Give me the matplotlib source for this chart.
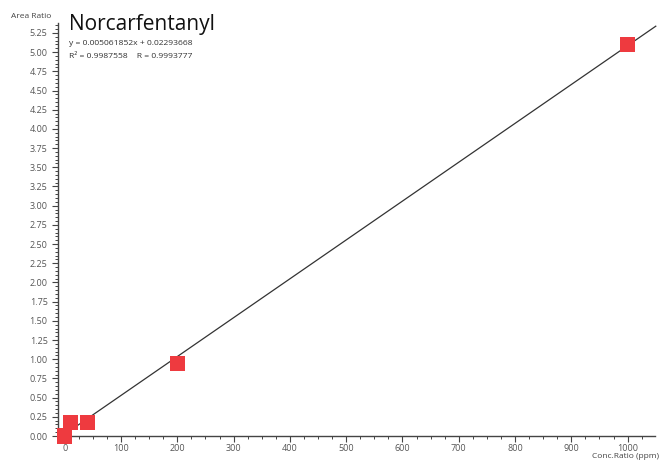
import matplotlib.pyplot as plt
from matplotlib.ticker import MultipleLocator, FormatStrFormatter
import numpy as np

plt.rcParams['font.family'] = ['Open Sans', 'DejaVu Sans']

# calibration points
conc = [0, 10, 40, 200, 1000]
area = [0.0, 0.18, 0.176, 0.947, 5.10]

slope = 0.005061852
intercept = 0.02293668
r2 = 0.9987558
r = 0.9993777

fig = plt.figure(figsize=(6.6, 4.61), dpi=100)
ax = fig.add_axes([0.0879, 0.0542, 0.904, 0.896])

xfit = np.array([0, 1050])
ax.plot(xfit, slope * xfit + intercept, color='#333333', lw=0.9, zorder=2, clip_on=False)
ax.scatter(conc, area, marker='s', s=120, color='#ee3a3f', edgecolors='none',
           zorder=3, clip_on=False)

ax.set_xlim(-12, 1048)
ax.set_ylim(0, 5.38)
ax.spines['top'].set_visible(False)
ax.spines['right'].set_visible(False)
for s in ('left', 'bottom'):
    ax.spines[s].set_color('#444444')
    ax.spines[s].set_linewidth(1.0)

ax.xaxis.set_major_locator(MultipleLocator(100))
ax.xaxis.set_minor_locator(MultipleLocator(25))
ax.yaxis.set_major_locator(MultipleLocator(0.25))
ax.yaxis.set_minor_locator(MultipleLocator(0.05))
ax.yaxis.set_major_formatter(FormatStrFormatter('%.2f'))
ax.tick_params(which='both', colors='#444444', labelcolor='#555555', labelsize=6.5)
ax.tick_params(which='major', length=4, width=0.8)
ax.tick_params(which='minor', length=2.5, width=0.7)
ax.tick_params(axis='x', which='major', pad=1.5)

fig.text(0.017, 0.965, 'Area Ratio', fontsize=6, color='#444444', va='center')
fig.text(0.998, 0.002, 'Conc.Ratio (ppm)', fontsize=6, color='#444444', ha='right', va='bottom')

fig.text(0.105, 0.925, 'Norcarfentanyl', fontsize=15, color='#111111', va='bottom')
fig.text(0.105, 0.905, 'y = %.9fx + %.8f' % (slope, intercept), fontsize=6.1,
         color='#333333', va='center')
fig.text(0.105, 0.877, 'R\u00b2 = %.7f    R = %.7f' % (r2, r), fontsize=6.1,
         color='#333333', va='center')

fig.savefig('out.png', dpi=100)
